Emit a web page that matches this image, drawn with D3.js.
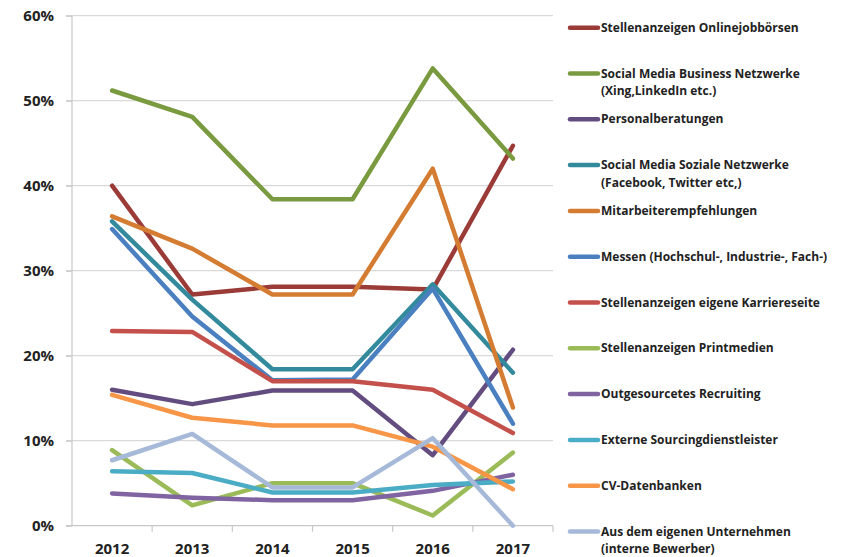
<!DOCTYPE html>
<html>
<head>
<meta charset="utf-8">
<script src="https://cdn.jsdelivr.net/npm/d3@7"></script>
<style>
  body { margin: 0; background: #fff; }
  text { font-family: "Open Sans", "Liberation Sans", sans-serif; font-weight: bold; fill: #222; }
</style>
</head>
<body>
<script>
// Data
const years = ["2012", "2013", "2014", "2015", "2016", "2017"];
const yTicks = [0, 10, 20, 30, 40, 50, 60];

const seriesNames = [
  ["Stellenanzeigen Onlinejobbörsen"],
  ["Social Media Business Netzwerke", "(Xing,LinkedIn etc.)"],
  ["Personalberatungen"],
  ["Social Media Soziale Netzwerke", "(Facebook, Twitter etc,)"],
  ["Mitarbeiterempfehlungen"],
  ["Messen (Hochschul-, Industrie-, Fach-)"],
  ["Stellenanzeigen eigene Karriereseite"],
  ["Stellenanzeigen Printmedien"],
  ["Outgesourcetes Recruiting"],
  ["Externe Sourcingdienstleister"],
  ["CV-Datenbanken"],
  ["Aus dem eigenen Unternehmen", "(interne Bewerber)"]
];

const onlinejob   = [40.0, 27.2, 28.1, 28.1, 27.8, 44.7];
const businessNet = [51.2, 48.1, 38.4, 38.4, 53.8, 43.2];
const personal    = [16.0, 14.3, 15.9, 15.9, 8.3, 20.7];
const sozialeNet  = [35.8, 26.6, 18.4, 18.4, 28.4, 18.0];
const mitarbeiter = [36.4, 32.6, 27.2, 27.2, 42.0, 13.9];
const messen      = [34.9, 24.6, 17.1, 17.2, 27.9, 12.0];
const karriere    = [22.9, 22.8, 17.0, 17.0, 16.0, 10.9];
const print       = [8.9, 2.4, 5.0, 5.0, 1.2, 8.6];
const outsourced  = [3.8, 3.3, 3.0, 3.0, 4.1, 6.0];
const sourcing    = [6.4, 6.2, 3.9, 3.9, 4.8, 5.2];
const cvDb        = [15.4, 12.7, 11.8, 11.8, 9.3, 4.3];
const intern      = [7.7, 10.8, 4.5, 4.5, 10.3, 0.0];

const seriesValues = [onlinejob, businessNet, personal, sozialeNet, mitarbeiter, messen,
  karriere, print, outsourced, sourcing, cvDb, intern];

const colors = ["#9b3b38", "#7a9a3f", "#634c7f", "#328a9c", "#d47c32", "#4a80c0",
  "#c4504c", "#9bbb59", "#8064a2", "#4bacc6", "#f79646", "#a6b9d8"];

const width = 844, height = 557;
const plot = { left: 72, right: 553, top: 15.7, bottom: 525.7 };

const svg = d3.select("body").append("svg")
  .attr("width", width)
  .attr("height", height);

const x = d3.scaleBand().domain(years).range([plot.left, plot.right]);
const y = d3.scaleLinear().domain([0, 60]).range([plot.bottom, plot.top]);

// gridlines
svg.append("g")
  .selectAll("line")
  .data(yTicks.slice(1))
  .join("line")
  .attr("x1", plot.left - 6)
  .attr("x2", plot.right)
  .attr("y1", d => y(d))
  .attr("y2", d => y(d))
  .attr("stroke", "#d9d9d9")
  .attr("stroke-width", 1.2);

// y axis
const yAxis = d3.axisLeft(y)
  .tickValues(yTicks)
  .tickSize(6)
  .tickPadding(12)
  .tickFormat(d => d + "%");

svg.append("g")
  .attr("transform", `translate(${plot.left},0)`)
  .call(yAxis)
  .call(g => g.selectAll("line, path").attr("stroke", "#c8c8c8").attr("stroke-width", 1.2))
  .call(g => g.select(".domain").attr("d", `M0,${plot.top}V${plot.bottom}`))
  .call(g => g.selectAll("text").style("font-size", "15px").attr("fill", "#222"));

// x axis
const xAxis = d3.axisBottom(x).tickSize(0).tickPadding(18);
svg.append("g")
  .attr("transform", `translate(0,${plot.bottom})`)
  .call(xAxis)
  .call(g => g.select(".domain").attr("stroke", "#c8c8c8").attr("stroke-width", 1.2)
    .attr("d", `M${plot.left - 6},0H${plot.right}`))
  .call(g => g.selectAll("text").style("font-size", "15px").attr("fill", "#222"));

// x tick marks at band boundaries
svg.append("g")
  .selectAll("line")
  .data(years)
  .join("line")
  .attr("x1", d => x(d) + x.bandwidth())
  .attr("x2", d => x(d) + x.bandwidth())
  .attr("y1", plot.bottom)
  .attr("y2", plot.bottom + 6)
  .attr("stroke", "#c8c8c8")
  .attr("stroke-width", 1.2);

// lines
const line = d3.line()
  .x((d, i) => x(years[i]) + x.bandwidth() / 2)
  .y(d => y(d));

svg.append("g")
  .selectAll("path")
  .data(seriesValues)
  .join("path")
  .attr("d", d => line(d))
  .attr("fill", "none")
  .attr("stroke", (d, i) => colors[i])
  .attr("stroke-width", 4.5)
  .attr("stroke-linejoin", "round")
  .attr("stroke-linecap", "round");

// legend
const legend = svg.append("g");
const item = legend.selectAll("g")
  .data(seriesNames)
  .join("g")
  .attr("transform", (d, i) => `translate(570,${27.7 + i * 45.8})`);

item.append("line")
  .attr("x1", 0).attr("x2", 28)
  .attr("stroke", (d, i) => colors[i])
  .attr("stroke-width", 4.5)
  .attr("stroke-linecap", "round");

item.append("text")
  .attr("x", 31)
  .attr("y", 4)
  .style("font-size", "12px")
  .selectAll("tspan")
  .data(d => d)
  .join("tspan")
  .attr("x", 31)
  .attr("dy", (d, i) => i === 0 ? 0 : 17.5)
  .text(d => d);
</script>
</body>
</html>
